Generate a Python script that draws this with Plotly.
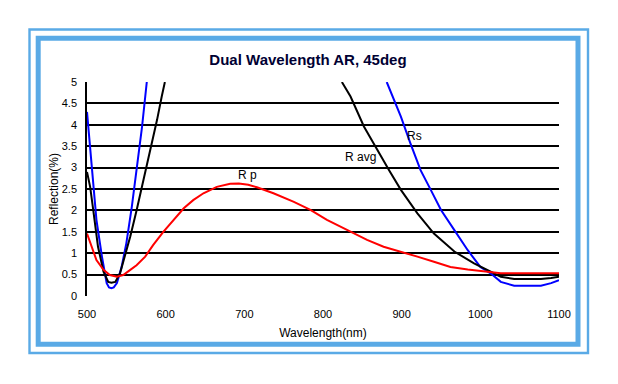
import plotly.graph_objects as go

# ---- data ----
rs_wl = [500, 506, 512, 519, 525, 528, 531, 534, 538, 544, 550, 557, 563, 570, 576, None,
         881, 899, 911, 924, 937, 950, 967, 984, 1000, 1013, 1026, 1043, 1060, 1077, 1090, 1100]
rs_val = [4.3, 3.02, 1.78, 0.92, 0.30, 0.20, 0.18, 0.20, 0.30, 0.68, 1.23, 2.09, 2.94, 3.96, 5.0, None,
          5.0, 4.19, 3.57, 2.94, 2.48, 2.01, 1.54, 1.07, 0.68, 0.53, 0.33, 0.24, 0.24, 0.24, 0.30, 0.37]

ravg_wl = [500, 504, 508, 514, 521, 527, 531, 536, 542, 548, 555, 563, 572, 580, 589, 595, 599, None,
           824, 835, 852, 869, 884, 899, 920, 941, 967, 992, 1009, 1026, 1043, 1077, 1090, 1100]
ravg_val = [2.9, 2.55, 2.0, 1.15, 0.57, 0.33, 0.31, 0.33, 0.53, 0.92, 1.39, 2.0, 2.71, 3.41, 4.11, 4.66, 5.0, None,
            5.0, 4.66, 3.96, 3.41, 2.94, 2.48, 1.93, 1.46, 1.04, 0.76, 0.61, 0.45, 0.40, 0.40, 0.42, 0.45]

rp_wl = [500, 506, 512, 521, 529, 538, 546, 555, 563, 574, 584, 597, 610, 623, 635, 648, 665, 682, 693,
         705, 716, 737, 763, 784, 805, 814, 835, 856, 877, 899, 920, 941, 962, 984, 1005, 1026, 1060, 1100]
rp_val = [1.46, 1.15, 0.84, 0.61, 0.49, 0.45, 0.49, 0.61, 0.72, 0.92, 1.19, 1.50, 1.78, 2.05, 2.24, 2.40, 2.55, 2.62, 2.63,
          2.60, 2.54, 2.40, 2.20, 2.01, 1.78, 1.70, 1.50, 1.31, 1.15, 1.04, 0.92, 0.80, 0.68, 0.62, 0.57, 0.53, 0.53, 0.53]

x_ticks = [500, 600, 700, 800, 900, 1000, 1100]
y_ticks = [0, 0.5, 1, 1.5, 2, 2.5, 3, 3.5, 4, 4.5, 5]

labels = [("Rs", 916, 3.74), ("R avg", 848, 3.25), ("R p", 704, 2.82)]

# ---- figure ----
W, H = 618, 384
ML, MR, MT, MB = 87, 59, 82, 88
PW, PH = W - ML - MR, H - MT - MB

FONT = "Liberation Sans, Arial, sans-serif"

fig = go.Figure()
fig.add_trace(go.Scatter(x=rs_wl, y=rs_val, mode="lines", line=dict(color="#0000ff", width=2),
                         connectgaps=False, name="Rs"))
fig.add_trace(go.Scatter(x=ravg_wl, y=ravg_val, mode="lines", line=dict(color="#000000", width=2),
                         connectgaps=False, name="Ravg"))
fig.add_trace(go.Scatter(x=rp_wl, y=rp_val, mode="lines", line=dict(color="#ff0000", width=2),
                         name="Rp"))

for txt, xv, yv in labels:
    fig.add_annotation(x=xv, y=yv, text=txt, showarrow=False,
                       font=dict(family=FONT, size=12, color="#000000"))


def px_x(p):
    return (p - ML) / PW


def px_y(p):
    return (H - MB - p) / PH


frame_col = "#5aaae6"
fig.add_shape(type="rect", xref="paper", yref="paper",
              x0=px_x(29.5), x1=px_x(588), y0=px_y(353), y1=px_y(29.5),
              line=dict(color=frame_col, width=2.4), layer="below")
fig.add_shape(type="rect", xref="paper", yref="paper",
              x0=px_x(38.2), x1=px_x(578), y0=px_y(344.2), y1=px_y(38.2),
              line=dict(color=frame_col, width=5), layer="below")

fig.update_layout(
    width=W, height=H,
    margin=dict(l=ML, r=MR, t=MT, b=MB, pad=0),
    paper_bgcolor="white", plot_bgcolor="white",
    showlegend=False,
    title=dict(text="<b>Dual Wavelength AR, 45deg</b>", x=308 / W, xanchor="center",
               y=1 - 60 / H, yanchor="middle", yref="container",
               font=dict(family=FONT, size=15, color="#000033")),
)
fig.update_xaxes(range=[500, 1100], tickvals=x_ticks, showgrid=False, zeroline=False,
                 showline=False, ticks="", ticklabelstandoff=10,
                 tickfont=dict(family=FONT, size=11, color="#000000"),
                 title=dict(text="Wavelength(nm)", standoff=9,
                            font=dict(family=FONT, size=12, color="#000000")))
fig.update_yaxes(range=[0, 5], tickvals=y_ticks, showgrid=True, gridcolor="#000000", gridwidth=1.5,
                 zeroline=False, showline=True, linecolor="#000000", linewidth=1.5,
                 ticks="", ticklabelstandoff=6,
                 tickfont=dict(family=FONT, size=11, color="#000000"),
                 title=dict(text="Reflection(%)", standoff=1,
                            font=dict(family=FONT, size=12, color="#000000")))

fig.write_html("out.html", config={"displayModeBar": False},
               post_script="document.body.style.margin='0';document.body.style.overflow='hidden';")
